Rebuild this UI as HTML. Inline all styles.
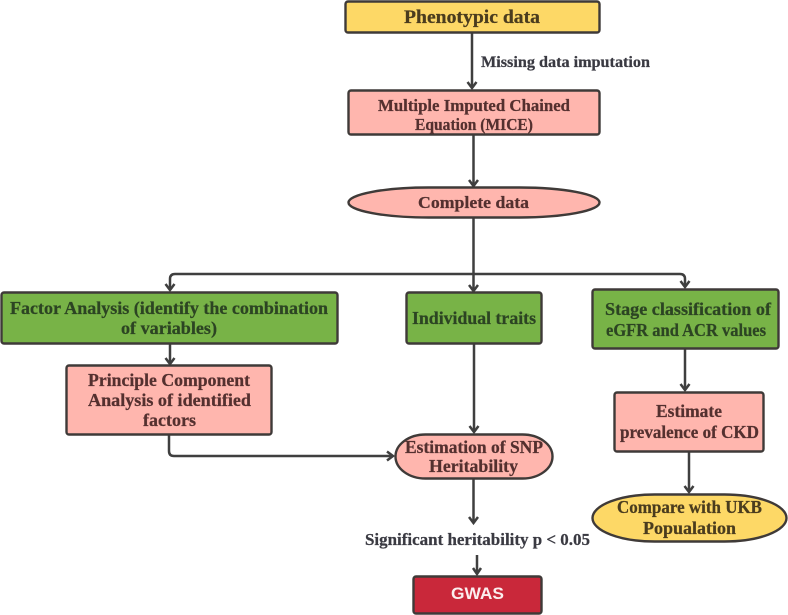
<!DOCTYPE html>
<html>
<head>
<meta charset="utf-8">
<style>
html,body{margin:0;padding:0;background:#fff;width:788px;height:615px;overflow:hidden}
svg{display:block}
text{font-family:"Liberation Serif",serif;font-weight:bold;font-size:17px;text-anchor:start;stroke-width:.25px}
.ln{fill:none;stroke:#3f3f3f;stroke-width:2.5}
.ah{fill:none;stroke:#3f3f3f;stroke-width:2.5;stroke-linejoin:miter}
.bx{stroke:#3f3a38;stroke-width:2.4}
.y{fill:#fdd866}.p{fill:#ffb6ae}.g{fill:#78b347}.r{fill:#c9283a}
.ty{fill:#4a3c1e;stroke:#4a3c1e}.tp{fill:#54302f;stroke:#54302f}.tg{fill:#2c4423;stroke:#2c4423}.tb{fill:#3a3a42;stroke:#3a3a42}
</style>
</head>
<body>
<svg width="788" height="615" viewBox="0 0 788 615" xmlns="http://www.w3.org/2000/svg">
<!-- connectors -->
<path class="ln" d="M472 33V88"/><path class="ah" d="M467.500 82L472 88L476.500 82"/>
<path class="ln" d="M473.500 135V186"/><path class="ah" d="M469 180L473.500 186L478 180"/>
<path class="ln" d="M473.500 218V291"/><path class="ah" d="M469 285L473.500 291L478 285"/>
<path class="ln" d="M170 290V279Q170 274 175 274H680Q685 274 685 279V287"/>
<path class="ah" d="M165.500 284L170 290L174.500 284"/><path class="ah" d="M680.500 281L685 287L689.500 281"/>
<path class="ln" d="M170 344V364"/><path class="ah" d="M165.500 358L170 364L174.500 358"/>
<path class="ln" d="M474 344V432"/><path class="ah" d="M469.500 426L474 432L478.500 426"/>
<path class="ln" d="M685 349V390"/><path class="ah" d="M680.500 384L685 390L689.500 384"/>
<path class="ln" d="M689 452V492"/><path class="ah" d="M684.500 486L689 492L693.500 486"/>
<path class="ln" d="M169 435V451Q169 456 174 456H393"/><path class="ah" d="M387 451.500L393 456L387 460.500"/>
<path class="ln" d="M473.500 479V523"/><path class="ah" d="M469 517L473.500 523L478 517"/>
<path class="ln" d="M477 555V574"/><path class="ah" d="M473 568L477 574L481 568"/>
<!-- nodes -->
<rect class="bx y" x="345.500" y="1.500" width="254" height="31" rx="2.500"/>
<rect class="bx p" x="348.500" y="90.500" width="251" height="44" rx="2.500"/>
<rect class="bx p" x="348.500" y="187.500" width="251" height="30" rx="80" ry="15"/>
<rect class="bx g" x="1.500" y="292.500" width="336" height="51" rx="2.500"/>
<rect class="bx p" x="66.500" y="365.500" width="205" height="69" rx="2.500"/>
<rect class="bx g" x="406.500" y="292.500" width="135" height="51" rx="2.500"/>
<rect class="bx g" x="592.500" y="289.500" width="186" height="59" rx="2.500"/>
<rect class="bx p" x="614.500" y="392.500" width="149" height="59" rx="2.500"/>
<rect class="bx p" x="395.500" y="434.500" width="157" height="44" rx="30" ry="22"/>
<rect class="bx y" x="592.500" y="494.500" width="194" height="47" rx="62" ry="23.500"/>
<rect class="bx r" x="413.500" y="576.500" width="128" height="37" rx="2.500"/>
<!-- labels -->
<text class="ty" x="404" y="23" textLength="136" lengthAdjust="spacingAndGlyphs" style="font-size:18.500px">Phenotypic data</text>
<text class="tb" x="481" y="67" textLength="169" lengthAdjust="spacingAndGlyphs" style="font-size:16px">Missing data imputation</text>
<text class="tp" x="378" y="111" textLength="192" lengthAdjust="spacingAndGlyphs" style="font-size:16.500px">Multiple Imputed Chained</text>
<text class="tp" x="415" y="130" textLength="118" lengthAdjust="spacingAndGlyphs" style="font-size:16.500px">Equation (MICE)</text>
<text class="tp" x="418" y="208" textLength="111" lengthAdjust="spacingAndGlyphs" style="font-size:17px">Complete data</text>
<text class="tg" x="10" y="314" textLength="318" lengthAdjust="spacingAndGlyphs" style="font-size:17.500px">Factor Analysis (identify the combination</text>
<text class="tg" x="121" y="334" textLength="96" lengthAdjust="spacingAndGlyphs" style="font-size:17.500px">of variables)</text>
<text class="tp" x="88" y="386" textLength="162" lengthAdjust="spacingAndGlyphs" style="font-size:17.500px">Principle Component</text>
<text class="tp" x="88" y="406" textLength="163" lengthAdjust="spacingAndGlyphs" style="font-size:17.500px">Analysis of identified</text>
<text class="tp" x="143" y="426" textLength="53" lengthAdjust="spacingAndGlyphs" style="font-size:17.500px">factors</text>
<text class="tg" x="412" y="324" textLength="124" lengthAdjust="spacingAndGlyphs" style="font-size:17.500px">Individual traits</text>
<text class="tg" x="605" y="315" textLength="166" lengthAdjust="spacingAndGlyphs" style="font-size:17.500px">Stage classification of</text>
<text class="tg" x="606" y="336" textLength="160" lengthAdjust="spacingAndGlyphs" style="font-size:17.500px">eGFR and ACR values</text>
<text class="tp" x="656" y="417" textLength="66" lengthAdjust="spacingAndGlyphs" style="font-size:17.500px">Estimate</text>
<text class="tp" x="620" y="438" textLength="139" lengthAdjust="spacingAndGlyphs" style="font-size:17.500px">prevalence of CKD</text>
<text class="tp" x="405" y="453" textLength="138" lengthAdjust="spacingAndGlyphs" style="font-size:17.500px">Estimation of SNP</text>
<text class="tp" x="429" y="472" textLength="89" lengthAdjust="spacingAndGlyphs" style="font-size:17.500px">Heritability</text>
<text class="tb" x="365" y="545" textLength="225" lengthAdjust="spacingAndGlyphs" style="font-size:17px">Significant heritability p &lt; 0.05</text>
<text class="ty" x="617" y="513" textLength="145" lengthAdjust="spacingAndGlyphs" style="font-size:17.500px">Compare with UKB</text>
<text class="ty" x="643" y="534" textLength="93" lengthAdjust="spacingAndGlyphs" style="font-size:17.500px">Popualation</text>
<text x="451" y="599" textLength="53" lengthAdjust="spacingAndGlyphs" style="font-family:'Liberation Sans',sans-serif;font-size:16.500px;fill:#fbeeee">GWAS</text>
</svg>
</body>
</html>
